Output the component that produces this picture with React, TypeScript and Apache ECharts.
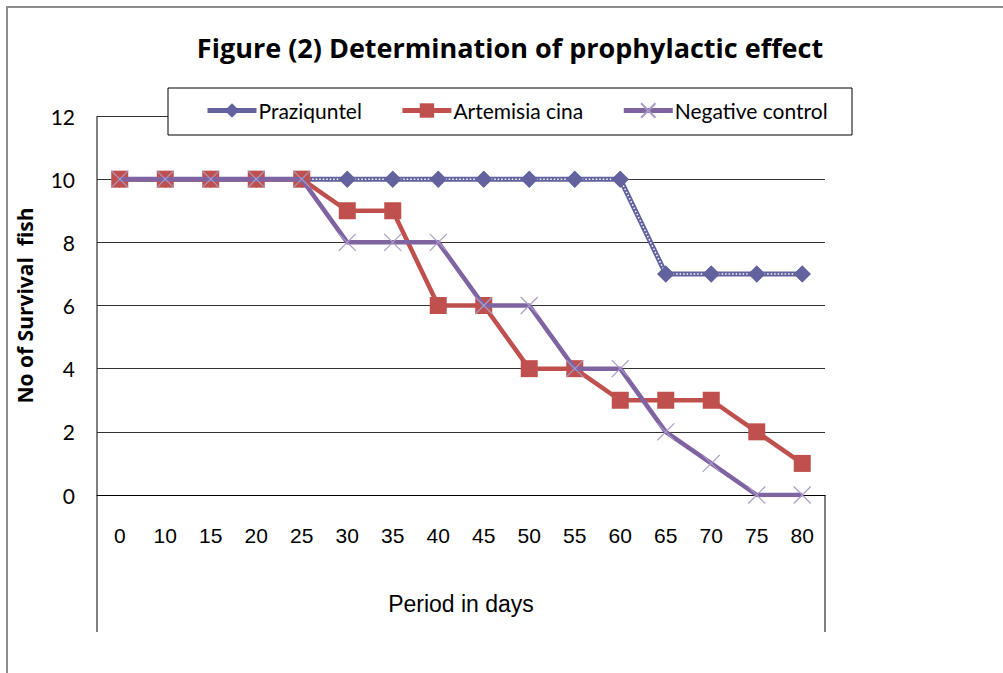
import React, { useEffect, useRef } from "react";
import * as echarts from "echarts";

const categories = ["0", "10", "15", "20", "25", "30", "35", "40", "45", "50", "55", "60", "65", "70", "75", "80"];
const praziquntel = [10, 10, 10, 10, 10, 10, 10, 10, 10, 10, 10, 10, 7, 7, 7, 7];
const artemisia = [10, 10, 10, 10, 10, 9, 9, 6, 6, 4, 4, 3, 3, 3, 2, 1];
const negative = [10, 10, 10, 10, 10, 8, 8, 8, 6, 6, 4, 4, 2, 1, 0, 0];
const yTicks = [0, 2, 4, 6, 8, 10, 12];

const CAL = "Lato, 'Open Sans', sans-serif";
const CALB = "'Open Sans', Lato, sans-serif";
const ARIAL = "'Liberation Sans', Arial, sans-serif";

const PRAZ = "#62629e";
const ART = "#c0504d";
const NEG = "#8064a2";

export default function App() {
  const ref = useRef<HTMLDivElement>(null);
  useEffect(() => {
    const chart = echarts.init(ref.current!, undefined, { renderer: "svg" });
    const L = 97, T = 116, R = 825, B = 495;
    chart.setOption({
      animation: false,
      backgroundColor: "#ffffff",
      title: {
        text: "Figure (2) Determination of prophylactic effect",
        left: 510,
        textAlign: "center",
        top: 34,
        padding: 0,
        textStyle: { fontFamily: CALB, fontWeight: "bold", fontSize: 27, color: "#000" },
      },
      legend: {
        data: [
          { name: "Praziquntel", lineStyle: { width: 5, color: PRAZ } },
          { name: "Artemisia cina", lineStyle: { width: 5, color: ART } },
          { name: "Negative control", lineStyle: { width: 5, color: NEG } },
        ],
        left: 205,
        top: 100,
        padding: 0,
        z: 20,
        itemGap: 38,
        itemWidth: 49,
        itemHeight: 18,
        textStyle: { fontFamily: CAL, fontSize: 21, color: "#000", padding: [0, 0, 0, -3] },
      },
      grid: { left: L, top: T, right: 1003 - R, bottom: 673 - B, containLabel: false },
      xAxis: {
        type: "category",
        data: categories,
        boundaryGap: true,
        axisLine: { show: true, lineStyle: { color: "#000", width: 1 } },
        axisTick: { show: false },
        axisLabel: { fontFamily: ARIAL, fontSize: 21, color: "#000", margin: 30 },
        name: "Period in days",
        nameLocation: "middle",
        nameGap: 97,
        nameTextStyle: { fontFamily: ARIAL, fontSize: 23, color: "#000" },
      },
      yAxis: {
        type: "value",
        min: yTicks[0],
        max: yTicks[yTicks.length - 1],
        interval: 2,
        axisLine: { show: false },
        axisTick: { show: false },
        splitLine: { show: true, lineStyle: { color: "#333", width: 1 } },
        axisLabel: { fontFamily: CAL, fontSize: 21, color: "#000", margin: 22 },
        name: "No of Survival  fish",
        nameLocation: "middle",
        nameGap: 62,
        nameTextStyle: { fontFamily: CALB, fontSize: 21, fontWeight: "bold", color: "#000" },
      },
      graphic: [
        { type: "line", shape: { x1: 7, y1: 7, x2: 1003, y2: 7 }, style: { stroke: "#8c8c8c", lineWidth: 2 } },
        { type: "line", shape: { x1: 7, y1: 6, x2: 7, y2: 673 }, style: { stroke: "#8c8c8c", lineWidth: 2 } },
        { type: "line", shape: { x1: L, y1: T, x2: L, y2: 632 }, style: { stroke: "#000", lineWidth: 1 } },
        { type: "line", shape: { x1: R, y1: B, x2: R, y2: 632 }, style: { stroke: "#000", lineWidth: 1 } },
        {
          type: "rect",
          shape: { x: 168, y: 88, width: 684, height: 47 },
          style: { fill: "#fff", stroke: "#000", lineWidth: 1 },
          z: 1,
        },
      ],
      series: [
        {
          name: "Praziquntel",
          type: "line",
          data: praziquntel,
          z: 2,
          symbol: "diamond",
          symbolSize: 17,
          itemStyle: { color: PRAZ },
          lineStyle: { color: PRAZ, width: 5 },
        },
        {
          name: "praz-dots",
          type: "line",
          data: praziquntel,
          z: 3,
          showSymbol: false,
          symbol: "none",
          silent: true,
          lineStyle: { color: "#ffffff", width: 1.5, type: [1.5, 2] },
        },
        {
          name: "praz-marks",
          type: "line",
          data: praziquntel,
          z: 4,
          symbol: "diamond",
          symbolSize: 17,
          silent: true,
          itemStyle: { color: PRAZ },
          lineStyle: { opacity: 0, width: 0 },
        },
        {
          name: "Artemisia cina",
          type: "line",
          data: artemisia,
          z: 5,
          symbol: "rect",
          symbolSize: 17,
          itemStyle: { color: ART },
          lineStyle: { color: ART, width: 4.5 },
        },
        {
          name: "Negative control",
          type: "line",
          data: negative,
          z: 6,
          symbol: "path://M0,0L10,10M10,0L0,10",
          symbolSize: 17,
          symbolKeepAspect: true,
          itemStyle: { color: "none", borderColor: "#a99ac8", borderWidth: 1.2 },
          lineStyle: { color: NEG, width: 4.5 },
        },
      ],
    });
    return () => chart.dispose();
  }, []);
  return (
    <div
      ref={ref}
      style={{ position: "absolute", left: 0, top: 0, width: 1003, height: 673 }}
    />
  );
}
